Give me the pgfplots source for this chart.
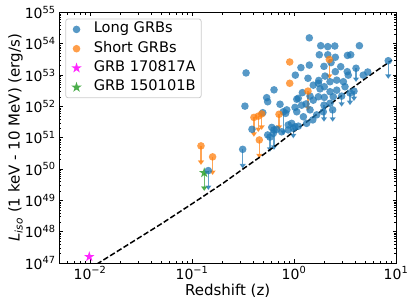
\documentclass[border=0pt]{standalone}
\usepackage{fontspec}
\setmainfont{DejaVu Sans}
\usepackage{pgfplots}
\pgfplotsset{compat=1.18}
\usetikzlibrary{arrows.meta}

\definecolor{cblue}{HTML}{1F77B4}
\definecolor{corange}{HTML}{FF7F0E}
\definecolor{cgreen}{HTML}{2CA02C}
\definecolor{cmag}{HTML}{FF00FF}

\pgfdeclareplotmark{fstar}{%
  \pgfpathmoveto{\pgfpointpolar{90}{\pgfplotmarksize}}%
  \pgfpathlineto{\pgfpointpolar{126}{0.382*\pgfplotmarksize}}%
  \pgfpathlineto{\pgfpointpolar{162}{\pgfplotmarksize}}%
  \pgfpathlineto{\pgfpointpolar{198}{0.382*\pgfplotmarksize}}%
  \pgfpathlineto{\pgfpointpolar{234}{\pgfplotmarksize}}%
  \pgfpathlineto{\pgfpointpolar{270}{0.382*\pgfplotmarksize}}%
  \pgfpathlineto{\pgfpointpolar{306}{\pgfplotmarksize}}%
  \pgfpathlineto{\pgfpointpolar{342}{0.382*\pgfplotmarksize}}%
  \pgfpathlineto{\pgfpointpolar{18}{\pgfplotmarksize}}%
  \pgfpathlineto{\pgfpointpolar{54}{0.382*\pgfplotmarksize}}%
  \pgfpathclose
  \pgfusepathqfill
}

\pgfplotsset{
  lgmark/.style={legend image code/.code={\draw[mark repeat=2,mark phase=2,##1] plot coordinates {(0pt,0pt) (14pt,0pt) (28pt,0pt)};}},
  ularrow/.style={forget plot, quiver={u=0, v=\thisrow{dv}}, draw=#1, opacity=0.7, line width=1.4pt, -{Triangle[width=6pt,length=4.5pt]}},
  dot/.style={only marks, mark=*, mark size=3.8pt, mark options={draw=#1, draw opacity=0, fill=#1, fill opacity=0.75}},
}

% Long GRBs, detections: log10(z), log10(L_iso)
\pgfplotstableread{
lz lL
-0.470 53.07
-0.481 52.01
0.150 54.19
0.262 53.94
0.331 53.91
0.400 53.93
0.641 53.94
0.248 53.65
0.331 53.65
0.405 53.57
0.556 53.65
0.524 53.63
0.150 53.32
0.068 53.24
0.013 53.00
0.363 53.40
0.294 53.28
0.405 53.11
0.458 53.27
0.522 53.11
0.532 53.00
0.723 53.10
0.137 52.90
0.243 52.83
0.353 52.79
0.419 52.84
0.484 52.79
0.679 53.00
0.304 52.97
-0.196 52.53
-0.268 52.28
-0.258 52.15
0.027 52.23
0.082 52.44
0.189 52.68
0.239 52.74
0.255 52.56
0.297 52.63
0.353 52.47
0.419 52.52
0.500 52.63
-0.137 52.07
-0.071 51.89
-0.082 51.78
0.010 51.97
0.027 51.83
0.075 52.04
-0.306 51.80
-0.412 51.27
-0.218 51.33
-0.258 51.09
-0.203 51.14
-0.170 51.27
-0.121 51.19
-0.056 51.41
-0.023 51.46
0.010 51.35
-0.056 51.25
0.042 51.37
0.124 51.46
0.184 51.57
0.222 51.73
0.157 51.89
0.287 51.83
0.189 52.20
0.239 52.31
0.297 52.29
0.157 52.33
0.092 51.67
0.353 52.10
0.385 52.31
0.042 52.26
0.118 52.08
}\longdet

% Long GRBs, upper limits: point and arrow length (dex)
\pgfplotstableread{
lz lL dv
0.924 53.46 -0.58
0.608 53.22 -0.44
0.588 52.49 -0.32
0.467 52.33 -0.34
0.549 52.43 -0.39
0.294 52.04 -0.53
0.379 51.89 -0.38
-0.503 50.63 -0.61
-0.840 49.95 -0.62
-0.236 51.02 -0.47
-0.196 51.25 -0.64
-0.105 51.83 -0.74
-0.007 51.30 -0.32
}\longul

\pgfplotstableread{
lz lL
-0.042 53.42
-0.042 52.74
}\shortdet

\pgfplotstableread{
lz lL dv
-0.912 50.74 -0.61
-0.798 50.39 -0.58
-0.393 51.65 -0.62
-0.350 51.69 -0.51
-0.317 51.76 -0.51
-0.340 50.93 -0.59
-0.147 51.75 -0.50
0.137 52.49 -0.63
0.346 53.50 -0.62
}\shortul

\pgfplotstableread{
lz lL dv
-0.880 49.88 -0.58
}\grbB

% detection threshold curve
\pgfplotstableread{
lz lL
-2.000 46.83
-1.699 47.44
-1.301 48.25
-1.000 48.89
-0.699 49.54
-0.523 49.95
-0.301 50.46
-0.155 50.81
0.000 51.20
0.176 51.63
0.301 51.94
0.477 52.37
0.602 52.66
0.699 52.89
0.778 53.07
0.903 53.35
0.960 53.48
}\thresh

\begin{document}
\begin{tikzpicture}
\path[use as bounding box] (0,0) rectangle (415pt,305pt);
\begin{axis}[
  at={(59.3pt,42pt)}, anchor=south west,
  scale only axis, width=336.7pt, height=250.5pt,
  xmin=-2.30103, xmax=1, ymin=47, ymax=55,
  xtick={-2,-1,0,1},
  xticklabels={10\textsuperscript{−2},10\textsuperscript{−1},10\textsuperscript{0},10\textsuperscript{1}},
  ytick={47,48,49,50,51,52,53,54,55},
  yticklabels={10\textsuperscript{47},10\textsuperscript{48},10\textsuperscript{49},10\textsuperscript{50},10\textsuperscript{51},10\textsuperscript{52},10\textsuperscript{53},10\textsuperscript{54},10\textsuperscript{55}},
  minor xtick={-2.222,-2.155,-2.097,-2.046,-1.699,-1.523,-1.398,-1.301,-1.222,-1.155,-1.097,-1.046,-0.699,-0.523,-0.398,-0.301,-0.222,-0.155,-0.097,-0.046,0.301,0.477,0.602,0.699,0.778,0.845,0.903,0.954},
  minor ytick={47.301,47.477,47.602,47.699,47.778,47.845,47.903,47.954,
    48.301,48.477,48.602,48.699,48.778,48.845,48.903,48.954,
    49.301,49.477,49.602,49.699,49.778,49.845,49.903,49.954,
    50.301,50.477,50.602,50.699,50.778,50.845,50.903,50.954,
    51.301,51.477,51.602,51.699,51.778,51.845,51.903,51.954,
    52.301,52.477,52.602,52.699,52.778,52.845,52.903,52.954,
    53.301,53.477,53.602,53.699,53.778,53.845,53.903,53.954,
    54.301,54.477,54.602,54.699,54.778,54.845,54.903,54.954},
  tick align=inside,
  major tick length=3.5pt, minor tick length=2pt,
  every tick/.style={black, line width=0.8pt},
  every minor tick/.style={black, line width=0.6pt},
  axis line style={line width=0.8pt},
  tick label style={font=\fontsize{14}{16}\selectfont},
  xticklabel style={inner sep=0pt, anchor=north, yshift=-3.5pt},
  yticklabel style={inner sep=0pt, anchor=east, xshift=-3.5pt},
  xlabel={Redshift (z)},
  ylabel={\textit{L}\textsubscript{\textit{iso}} (1 keV - 10 MeV) (erg/s)},
  label style={font=\fontsize{15}{17}\selectfont},
  xlabel style={at={(axis description cs:0.5,0)}, anchor=north, inner sep=0pt, yshift=-20.5pt},
  ylabel style={at={(axis description cs:-0.1078,0.5)}, anchor=south, inner sep=0pt},
  legend cell align=left,
  legend style={at={(0,1)}, anchor=north west, xshift=6pt, yshift=-6pt,
    draw=black!20, line width=0.8pt, rounded corners=2.5pt,
    fill=white, fill opacity=0.8, text opacity=1,
    font=\fontsize{14.6}{16}\selectfont,
    inner xsep=5.6pt, inner ysep=3.5pt, row sep=5.3pt,
    nodes={inner sep=0pt, text height=10.4pt, text depth=3.6pt},
    /tikz/every odd column/.append style={column sep=12pt}},
]
% upper-limit arrows
\addplot[ularrow=cblue] table[x=lz,y=lL] {\longul};
\addplot[ularrow=corange] table[x=lz,y=lL] {\shortul};
\addplot[ularrow=cgreen] table[x=lz,y=lL] {\grbB};

% legend series
\addplot[dot=cblue, lgmark] table[x=lz,y=lL] {\longdet};
\addlegendentry{Long GRBs}
\addplot[dot=corange, lgmark] table[x=lz,y=lL] {\shortdet};
\addlegendentry{Short GRBs}
\addplot[only marks, mark=fstar, mark size=5.5pt, mark options={fill=cmag, fill opacity=0.85}, lgmark] coordinates {(-2.007,47.20)};
\addlegendentry{GRB 170817A}
\addplot[only marks, mark=fstar, mark size=5.5pt, mark options={fill=cgreen, fill opacity=0.85}, lgmark] table[x=lz,y=lL] {\grbB};
\addlegendentry{GRB 150101B}

% upper-limit points
\addplot[dot=cblue, forget plot] table[x=lz,y=lL] {\longul};
\addplot[dot=corange, forget plot] table[x=lz,y=lL] {\shortul};

% threshold
\addplot[forget plot, black, line width=1.5pt, dash pattern=on 5.5pt off 2.4pt] table[x=lz,y=lL] {\thresh};
\end{axis}
\end{tikzpicture}
\end{document}
